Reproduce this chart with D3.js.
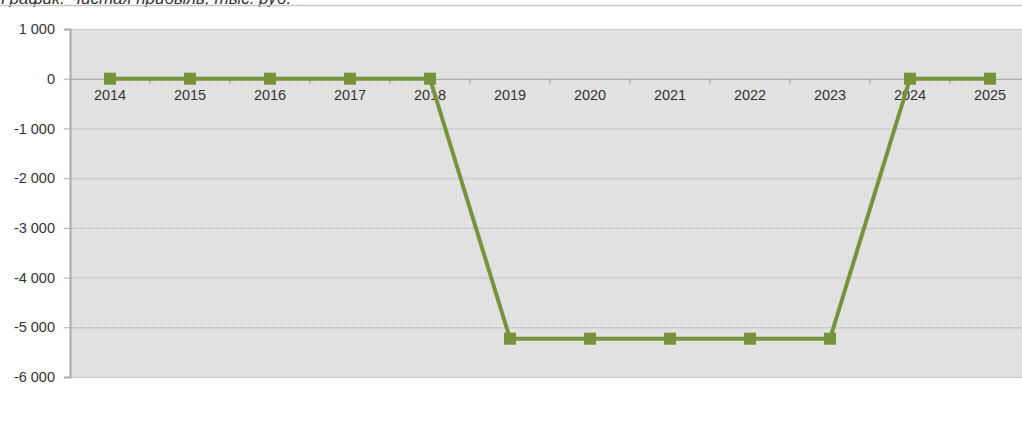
<!DOCTYPE html>
<html><head><meta charset="utf-8">
<script src="https://cdn.jsdelivr.net/npm/d3@7"></script>
<style>
html,body{margin:0;padding:0;background:#fff;overflow:hidden;}
svg{display:block;font-family:"Liberation Sans",Arial,sans-serif;}
</style></head><body>
<svg id="c" width="1022" height="424"></svg>
<script>
const title = "График: Чистая прибыль, тыс. руб.";
const years = ["2014","2015","2016","2017","2018","2019","2020","2021","2022","2023","2024","2025"];
const profit = [0,0,0,0,0,-5230,-5230,-5230,-5230,-5230,0,0];
const yTicks = [1000,0,-1000,-2000,-3000,-4000,-5000,-6000];

(function(){
const svg = d3.select("#c");
const pL = 70, pR = 1030, pT = 29, pB = 377;

const defs = svg.append("defs");
const pat = defs.append("pattern").attr("id","grid").attr("width",4).attr("height",4).attr("patternUnits","userSpaceOnUse");
pat.append("rect").attr("width",4).attr("height",4).attr("fill","#e3e3e3");
pat.append("path").attr("d","M0 0.5H4M0.5 0V4").attr("stroke","#dcdcdc").attr("stroke-width",0.6);

// title (cut off at top, as in the reference)
svg.append("text").attr("x",1).attr("y",4).attr("font-size",17).attr("font-style","italic").attr("fill","#333").text(title);
svg.append("line").attr("x1",0).attr("x2",1022).attr("y1",5.5).attr("y2",5.5).attr("stroke","#c8c8c8").attr("stroke-width",1.5);

const x = d3.scaleBand().domain(years).range([pL,pR]).padding(0);
const y = d3.scaleLinear().domain([-6000,1000]).range([pB,pT]);

svg.append("rect").attr("x",pL).attr("y",pT).attr("width",pR-pL).attr("height",pB-pT).attr("fill","url(#grid)");
svg.append("line").attr("x1",pL).attr("x2",1022).attr("y1",pT+0.5).attr("y2",pT+0.5).attr("stroke","#cfcfcf").attr("stroke-width",1.5);

// gridlines
svg.append("g").selectAll("line").data(yTicks.filter(d=>d!==1000&&d!==0)).join("line")
  .attr("x1",pL).attr("x2",1022).attr("y1",d=>y(d)+0.5).attr("y2",d=>y(d)+0.5)
  .attr("stroke","#c4c4c4").attr("stroke-width",1);

// y axis
const yAxis = d3.axisLeft(y).tickValues(yTicks).tickSize(6).tickPadding(9)
  .tickFormat(d=>d3.format(",")(d).replace(/,/g," ").replace("−","-"));
const gy = svg.append("g").attr("transform",`translate(${pL},0)`).call(yAxis);
gy.select(".domain").attr("stroke","#aaa").attr("stroke-width",2);
gy.selectAll(".tick line").attr("stroke","#aaa");
gy.selectAll("text").attr("font-size",14.5).attr("fill","#333");

// x axis on zero line
const xAxis = d3.axisBottom(x).tickSize(0).tickPadding(11);
const gx = svg.append("g").attr("transform",`translate(0,${y(0)})`).call(xAxis);
gx.select(".domain").remove();
gx.append("line").attr("x1",pL).attr("x2",1022).attr("y1",0.5).attr("y2",0.5).attr("stroke","#9a9a9a").attr("stroke-width",1);
gx.selectAll(".bnd").data(years.slice(1)).join("line").attr("class","bnd")
  .attr("x1",d=>x(d)).attr("x2",d=>x(d)).attr("y1",0).attr("y2",5).attr("stroke","#9a9a9a");
gx.selectAll("text").attr("font-size",14.5).attr("fill","#333");

// line
const cx = d=>x(d)+x.bandwidth()/2;
const line = d3.line().x((d,i)=>cx(years[i])).y(d=>y(d));
svg.append("path").datum(profit).attr("d",line).attr("fill","none").attr("stroke","#77933c").attr("stroke-width",4).attr("stroke-linejoin","round");
svg.append("g").selectAll("rect").data(profit).join("rect")
  .attr("x",(d,i)=>cx(years[i])-6).attr("y",d=>y(d)-6).attr("width",12).attr("height",12)
  .attr("fill","#77933c");
})();
</script></body></html>
